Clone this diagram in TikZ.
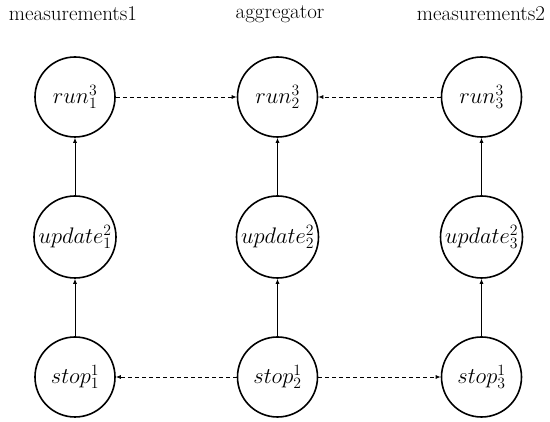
\RequirePackage{fix-cm}
\documentclass[tikz,border=0pt]{standalone}
\usetikzlibrary{arrows.meta}
\begin{document}
\begin{tikzpicture}[x=1pt,y=-1pt,
  state/.style={circle,draw,line width=1.6pt,minimum size=80pt,inner sep=0pt,font=\fontsize{22.5}{27}\selectfont},
  upd/.style={state,minimum size=82pt},
  title/.style={font=\fontsize{21}{25}\selectfont},
  flow/.style={line width=0.8pt,-{Latex[length=5pt,width=4pt]}},
  msg/.style={flow,dash pattern=on 4pt off 3pt}]
\useasboundingbox (0,0) rectangle (550,422);
\node[title] (t1) at (73,14) {measurements1};
\node[title] (t2) at (280,14) {aggregator};
\node[title] (t3) at (481,14) {measurements2};
\node[state] (run1) at (75,97) {$run^3_1$};
\node[state] (run2) at (277.5,97) {$run^3_2$};
\node[state] (run3) at (481.5,97) {$run^3_3$};
\node[upd] (up1) at (75,237) {$update^2_1$};
\node[upd] (up2) at (277.5,237) {$update^2_2$};
\node[upd] (up3) at (481.5,237) {$update^2_3$};
\node[state] (st1) at (75,377) {$stop^1_1$};
\node[state] (st2) at (277.5,377) {$stop^1_2$};
\node[state] (st3) at (481.5,377) {$stop^1_3$};
\draw[flow] (st1) -- (up1);
\draw[flow] (up1) -- (run1);
\draw[flow] (st2) -- (up2);
\draw[flow] (up2) -- (run2);
\draw[flow] (st3) -- (up3);
\draw[flow] (up3) -- (run3);
\draw[msg] (run1) -- (run2);
\draw[msg] (run3) -- (run2);
\draw[msg] (st2) -- (st1);
\draw[msg] (st2) -- (st3);
\end{tikzpicture}
\end{document}
